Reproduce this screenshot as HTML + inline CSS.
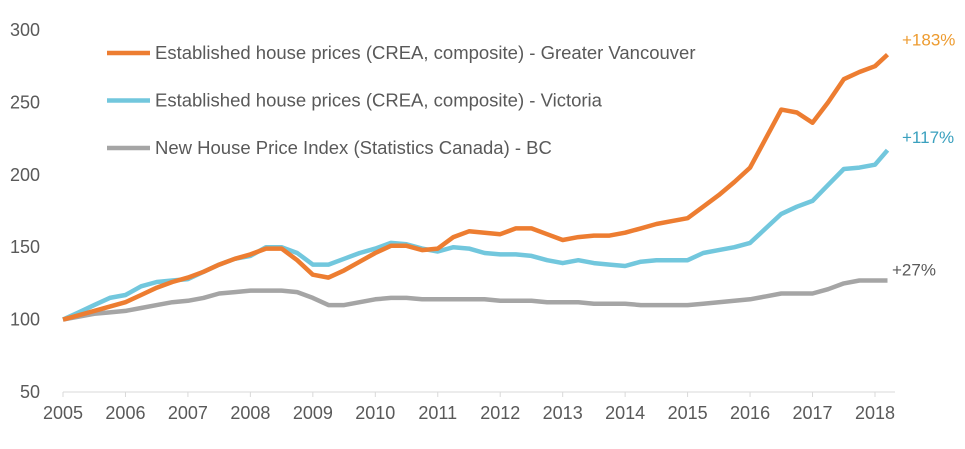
<!DOCTYPE html>
<html><head><meta charset="utf-8"><style>
body{margin:0;background:#fff;}
svg{display:block;font-family:"Liberation Sans",sans-serif;}
</style></head><body>
<svg id="chart" width="965" height="449">
<g id="axes"></g><g id="series"></g><g id="legend"></g>
</svg>
<script>
const years=[2005,2005.25,2005.5,2005.75,2006,2006.25,2006.5,2006.75,2007,2007.25,2007.5,2007.75,2008,2008.25,2008.5,2008.75,2009,2009.25,2009.5,2009.75,2010,2010.25,2010.5,2010.75,2011,2011.25,2011.5,2011.75,2012,2012.25,2012.5,2012.75,2013,2013.25,2013.5,2013.75,2014,2014.25,2014.5,2014.75,2015,2015.25,2015.5,2015.75,2016,2016.25,2016.5,2016.75,2017,2017.25,2017.5,2017.75,2018,2018.2];
const vancouver=[100,103,106,109,112,117,122,126,129,133,138,142,145,149,149,141,131,129,134,140,146,151,151,148,149,157,161,160,159,163,163,159,155,157,158,158,160,163,166,168,170,178,186,195,205,225,245,243,236,250,266,271,275,283];
const victoria=[100,105,110,115,117,123,126,127,128,133,138,142,144,150,150,146,138,138,142,146,149,153,152,149,147,150,149,146,145,145,144,141,139,141,139,138,137,140,141,141,141,146,148,150,153,163,173,178,182,193,204,205,207,217];
const bc=[100,102,104,105,106,108,110,112,113,115,118,119,120,120,120,119,115,110,110,112,114,115,115,114,114,114,114,114,113,113,113,112,112,112,111,111,111,110,110,110,110,111,112,113,114,116,118,118,118,121,125,127,127,127];
const yTicks=[50,100,150,200,250,300];
const xTicks=[2005,2006,2007,2008,2009,2010,2011,2012,2013,2014,2015,2016,2017,2018];
const seriesNames=["Established house prices (CREA, composite) - Greater Vancouver","Established house prices (CREA, composite) - Victoria","New House Price Index (Statistics Canada) - BC"];
const endLabels=["+183%","+117%","+27%"];
const NS="http://www.w3.org/2000/svg";
const X=v=>63+(v-2005)*62.46;
const Y=v=>392-(v-50)*1.448;
function mk(tag,attrs,parent,text){const e=document.createElementNS(NS,tag);for(const k in attrs)e.setAttribute(k,attrs[k]);if(text!==undefined)e.textContent=text;parent.appendChild(e);return e;}
const axes=document.getElementById('axes');
const xl=mk('line',{x1:63,x2:895,y1:392,y2:392,stroke:'#d9d9d9','stroke-width':1},axes);


yTicks.forEach(t=>{const e=mk('text',{x:40,y:Y(t)+6,'text-anchor':'end','font-size':18,fill:'#595959'},axes,t);

});
xTicks.forEach(t=>{const e=mk('text',{x:X(t),y:419,'text-anchor':'middle','font-size':18,fill:'#595959'},axes,t);


const tk=mk('line',{x1:X(t),x2:X(t),y1:392,y2:397,stroke:'#d9d9d9'},axes);

});
const ser=document.getElementById('series');
const data=[vancouver,victoria,bc];
const colors=['#ed7d31','#72c7dd','#a5a5a5'];
const labelColors=['#ed9b2f','#3aa0be','#595959'];
const names=['line-vancouver','line-victoria','line-bc'];
[2,1,0].forEach(i=>{const d=data[i].map((v,j)=>(j?'L':'M')+X(years[j]).toFixed(1)+','+Y(v).toFixed(1)).join('');
const p=mk('path',{d:d,fill:'none',stroke:colors[i],'stroke-width':4.5,'stroke-linejoin':'round'},ser);


const last=data[i][data[i].length-1];
const t=mk('text',{x:[902,902,892][i],y:Y(last)+[-9,-7,-5][i],'font-size':17,fill:labelColors[i]},ser,endLabels[i]);

});
const lg=document.getElementById('legend');
seriesNames.forEach((n,i)=>{const y=53+i*47.5;
const l=mk('line',{x1:107,x2:150,y1:y,y2:y,stroke:colors[i],'stroke-width':4.5},lg);


const t=mk('text',{x:155,y:y+6,'font-size':18.5,fill:'#595959'},lg,n);

});
</script>
</body></html>
